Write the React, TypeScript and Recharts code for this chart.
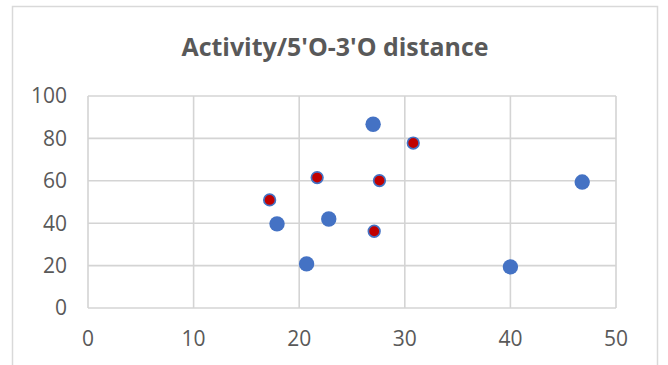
import { ScatterChart, Scatter, XAxis, YAxis, CartesianGrid } from "recharts"

const blueX = [17.9, 20.7, 22.8, 27.0, 40.0, 46.8]
const blueY = [39.7, 20.8, 42.0, 86.7, 19.4, 59.4]
const redX = [17.2, 21.7, 27.1, 27.6, 30.8]
const redY = [51.0, 61.5, 36.2, 60.1, 77.8]
const xTicks = [0, 10, 20, 30, 40, 50]
const yTicks = [0, 20, 40, 60, 80, 100]
const title = "Activity/5'O-3'O distance"

const blueData = blueX.map((x, i) => ({ x, y: blueY[i] }))
const redData = redX.map((x, i) => ({ x, y: redY[i] }))

const tickStyle = { fill: "#595959", fontSize: 21, fontFamily: "'Open Sans', sans-serif" }

export default function App(){

  return(

    <div style={{position:"fixed", left:0, top:0, width:668, height:365, background:"#fff", overflow:"hidden"}}>

      <svg width={668} height={365} style={{position:"absolute", left:0, top:0}}>
        <rect x={12.5} y={6.5} width={645} height={380} fill="#fff" stroke="#d9d9d9" strokeWidth={1.5}/>
      </svg>

      <div style={{position:"absolute", left:0, top:0}}>
        <ScatterChart width={668} height={365} margin={{top:96, right:52, bottom:0, left:0}}>

          <CartesianGrid stroke="#d4d4d4" strokeWidth={1.6}/>

          <XAxis
            type="number"
            dataKey="x"
            domain={[0, 50]}
            ticks={xTicks}
            axisLine={false}
            tickLine={false}
            tickSize={0}
            tickMargin={23}
            height={57}
            tick={tickStyle}
            interval={0}
          />

          <YAxis
            type="number"
            dataKey="y"
            domain={[0, 100]}
            ticks={yTicks}
            axisLine={false}
            tickLine={false}
            tickSize={0}
            tickMargin={21}
            width={88}
            tick={tickStyle}
            interval={0}
          />

          <Scatter
            data={blueData}
            isAnimationActive={false}
            shape={(p:any)=>(
              <circle cx={p.cx} cy={p.cy} r={7.7} fill="#4472C4"/>
            )}
          />

          <Scatter
            data={redData}
            isAnimationActive={false}
            shape={(p:any)=>(
              <circle cx={p.cx} cy={p.cy} r={5.8} fill="#C00000" stroke="#4472C4" strokeWidth={1.7}/>
            )}
          />

        </ScatterChart>
      </div>

      <svg width={668} height={365} style={{position:"absolute", left:0, top:0, pointerEvents:"none"}}>
        <text
          x={335}
          y={56}
          textAnchor="middle"
          textLength={307}
          lengthAdjust="spacingAndGlyphs"
          fill="#595959"
          fontSize={25}
          fontWeight="bold"
          fontFamily="'Open Sans', sans-serif"
        >
          {title}
        </text>
      </svg>

    </div>

  )

}
